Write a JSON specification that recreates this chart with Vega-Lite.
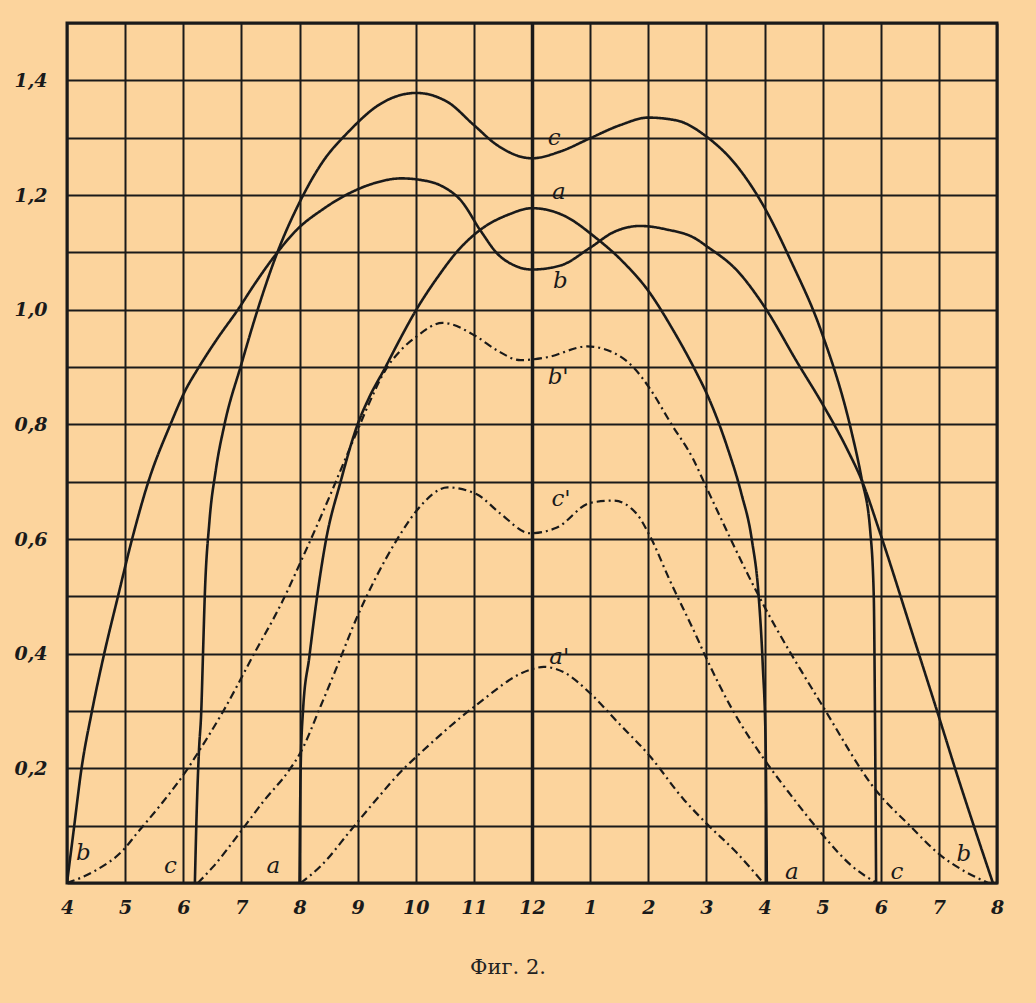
{
  "$schema": "https://vega.github.io/schema/vega-lite/v6.json",
  "width": 930,
  "height": 860,
  "autosize": {"type": "none"},
  "padding": {"left": 67, "top": 23, "right": 39, "bottom": 120},
  "background": "#FCD49D",
  "title": {"text": "Фиг. 2.", "orient": "bottom", "anchor": "middle", "offset": 40, "dx": -24, "font": "DejaVu Serif", "fontSize": 21, "fontWeight": "normal", "color": "#222222"},
  "config": {
    "view": {"stroke": "#1a1a1a", "strokeWidth": 3},
    "axis": {"domain": false, "ticks": false, "gridColor": "#1a1a1a", "gridOpacity": 1, "labelColor": "#1a1a1a", "labelFont": "DejaVu Serif", "labelFontStyle": "italic", "labelFontWeight": "bold", "labelFontSize": 18, "labelFlush": false, "labelOverlap": false, "title": null}
  },
  "datasets": {
    "curves": [
      {"s": "b", "k": "solid", "h": 4.0, "v": 0},
      {"s": "b", "k": "solid", "h": 4.11, "v": 0.088},
      {"s": "b", "k": "solid", "h": 4.25, "v": 0.2},
      {"s": "b", "k": "solid", "h": 4.43, "v": 0.3},
      {"s": "b", "k": "solid", "h": 4.64, "v": 0.4},
      {"s": "b", "k": "solid", "h": 4.87, "v": 0.497},
      {"s": "b", "k": "solid", "h": 5.12, "v": 0.6},
      {"s": "b", "k": "solid", "h": 5.4, "v": 0.7},
      {"s": "b", "k": "solid", "h": 5.78, "v": 0.8},
      {"s": "b", "k": "solid", "h": 6.04, "v": 0.86},
      {"s": "b", "k": "solid", "h": 6.24, "v": 0.895},
      {"s": "b", "k": "solid", "h": 6.59, "v": 0.95},
      {"s": "b", "k": "solid", "h": 6.94, "v": 1.0},
      {"s": "b", "k": "solid", "h": 7.23, "v": 1.045},
      {"s": "b", "k": "solid", "h": 7.62, "v": 1.1},
      {"s": "b", "k": "solid", "h": 7.96, "v": 1.14},
      {"s": "b", "k": "solid", "h": 8.4, "v": 1.175},
      {"s": "b", "k": "solid", "h": 8.8, "v": 1.2},
      {"s": "b", "k": "solid", "h": 9.3, "v": 1.221},
      {"s": "b", "k": "solid", "h": 9.75, "v": 1.229},
      {"s": "b", "k": "solid", "h": 10.1, "v": 1.226},
      {"s": "b", "k": "solid", "h": 10.44, "v": 1.216},
      {"s": "b", "k": "solid", "h": 10.78, "v": 1.19},
      {"s": "b", "k": "solid", "h": 11.12, "v": 1.137},
      {"s": "b", "k": "solid", "h": 11.41, "v": 1.097},
      {"s": "b", "k": "solid", "h": 11.7, "v": 1.077},
      {"s": "b", "k": "solid", "h": 12.0, "v": 1.07},
      {"s": "b", "k": "solid", "h": 12.49, "v": 1.077},
      {"s": "b", "k": "solid", "h": 13.0, "v": 1.108},
      {"s": "b", "k": "solid", "h": 13.4, "v": 1.135},
      {"s": "b", "k": "solid", "h": 13.86, "v": 1.146},
      {"s": "b", "k": "solid", "h": 14.31, "v": 1.14},
      {"s": "b", "k": "solid", "h": 14.83, "v": 1.123},
      {"s": "b", "k": "solid", "h": 15.0, "v": 1.111},
      {"s": "b", "k": "solid", "h": 15.53, "v": 1.068},
      {"s": "b", "k": "solid", "h": 16.0, "v": 1.005},
      {"s": "b", "k": "solid", "h": 16.57, "v": 0.907},
      {"s": "b", "k": "solid", "h": 17.0, "v": 0.835},
      {"s": "b", "k": "solid", "h": 17.43, "v": 0.755},
      {"s": "b", "k": "solid", "h": 17.67, "v": 0.703},
      {"s": "b", "k": "solid", "h": 17.99, "v": 0.61},
      {"s": "b", "k": "solid", "h": 18.56, "v": 0.43},
      {"s": "b", "k": "solid", "h": 19.0, "v": 0.29},
      {"s": "b", "k": "solid", "h": 19.31, "v": 0.19},
      {"s": "b", "k": "solid", "h": 19.6, "v": 0.1},
      {"s": "b", "k": "solid", "h": 19.93, "v": 0},

      {"s": "c", "k": "solid", "h": 6.2, "v": 0},
      {"s": "c", "k": "solid", "h": 6.23, "v": 0.12},
      {"s": "c", "k": "solid", "h": 6.27, "v": 0.23},
      {"s": "c", "k": "solid", "h": 6.31, "v": 0.3},
      {"s": "c", "k": "solid", "h": 6.34, "v": 0.4},
      {"s": "c", "k": "solid", "h": 6.37, "v": 0.5},
      {"s": "c", "k": "solid", "h": 6.45, "v": 0.63},
      {"s": "c", "k": "solid", "h": 6.56, "v": 0.72},
      {"s": "c", "k": "solid", "h": 6.71, "v": 0.8},
      {"s": "c", "k": "solid", "h": 7.0, "v": 0.905},
      {"s": "c", "k": "solid", "h": 7.28, "v": 1.0},
      {"s": "c", "k": "solid", "h": 7.62, "v": 1.1},
      {"s": "c", "k": "solid", "h": 8.02, "v": 1.191},
      {"s": "c", "k": "solid", "h": 8.4, "v": 1.258},
      {"s": "c", "k": "solid", "h": 8.84, "v": 1.31},
      {"s": "c", "k": "solid", "h": 9.41, "v": 1.36},
      {"s": "c", "k": "solid", "h": 10.01, "v": 1.378},
      {"s": "c", "k": "solid", "h": 10.55, "v": 1.362},
      {"s": "c", "k": "solid", "h": 11.0, "v": 1.322},
      {"s": "c", "k": "solid", "h": 11.4, "v": 1.287},
      {"s": "c", "k": "solid", "h": 12.0, "v": 1.264},
      {"s": "c", "k": "solid", "h": 12.49, "v": 1.276},
      {"s": "c", "k": "solid", "h": 13.0, "v": 1.299},
      {"s": "c", "k": "solid", "h": 13.52, "v": 1.322},
      {"s": "c", "k": "solid", "h": 14.0, "v": 1.335},
      {"s": "c", "k": "solid", "h": 14.49, "v": 1.33},
      {"s": "c", "k": "solid", "h": 15.0, "v": 1.302},
      {"s": "c", "k": "solid", "h": 15.53, "v": 1.25},
      {"s": "c", "k": "solid", "h": 16.0, "v": 1.178},
      {"s": "c", "k": "solid", "h": 16.45, "v": 1.086},
      {"s": "c", "k": "solid", "h": 16.97, "v": 0.964},
      {"s": "c", "k": "solid", "h": 17.49, "v": 0.79},
      {"s": "c", "k": "solid", "h": 17.67, "v": 0.706},
      {"s": "c", "k": "solid", "h": 17.82, "v": 0.613},
      {"s": "c", "k": "solid", "h": 17.88, "v": 0.5},
      {"s": "c", "k": "solid", "h": 17.9, "v": 0.3},
      {"s": "c", "k": "solid", "h": 17.92, "v": 0},

      {"s": "a", "k": "solid", "h": 8.0, "v": 0},
      {"s": "a", "k": "solid", "h": 8.02, "v": 0.2},
      {"s": "a", "k": "solid", "h": 8.06, "v": 0.3},
      {"s": "a", "k": "solid", "h": 8.17, "v": 0.395},
      {"s": "a", "k": "solid", "h": 8.28, "v": 0.483},
      {"s": "a", "k": "solid", "h": 8.45, "v": 0.595},
      {"s": "a", "k": "solid", "h": 8.71, "v": 0.701},
      {"s": "a", "k": "solid", "h": 9.0, "v": 0.8},
      {"s": "a", "k": "solid", "h": 9.19, "v": 0.845},
      {"s": "a", "k": "solid", "h": 9.48, "v": 0.9},
      {"s": "a", "k": "solid", "h": 9.71, "v": 0.945},
      {"s": "a", "k": "solid", "h": 10.01, "v": 1.0},
      {"s": "a", "k": "solid", "h": 10.4, "v": 1.06},
      {"s": "a", "k": "solid", "h": 10.7, "v": 1.1},
      {"s": "a", "k": "solid", "h": 11.12, "v": 1.14},
      {"s": "a", "k": "solid", "h": 11.6, "v": 1.166},
      {"s": "a", "k": "solid", "h": 12.0, "v": 1.177},
      {"s": "a", "k": "solid", "h": 12.55, "v": 1.164},
      {"s": "a", "k": "solid", "h": 13.09, "v": 1.126},
      {"s": "a", "k": "solid", "h": 13.57, "v": 1.083},
      {"s": "a", "k": "solid", "h": 14.0, "v": 1.033},
      {"s": "a", "k": "solid", "h": 14.43, "v": 0.964},
      {"s": "a", "k": "solid", "h": 14.83, "v": 0.89},
      {"s": "a", "k": "solid", "h": 15.0, "v": 0.855},
      {"s": "a", "k": "solid", "h": 15.36, "v": 0.76},
      {"s": "a", "k": "solid", "h": 15.6, "v": 0.68},
      {"s": "a", "k": "solid", "h": 15.78, "v": 0.6},
      {"s": "a", "k": "solid", "h": 15.9, "v": 0.5},
      {"s": "a", "k": "solid", "h": 15.97, "v": 0.38},
      {"s": "a", "k": "solid", "h": 16.02, "v": 0.24},
      {"s": "a", "k": "solid", "h": 16.04, "v": 0},

      {"s": "b1", "k": "dash", "h": 4.0, "v": 0},
      {"s": "b1", "k": "dash", "h": 4.46, "v": 0.02},
      {"s": "b1", "k": "dash", "h": 4.99, "v": 0.06},
      {"s": "b1", "k": "dash", "h": 5.19, "v": 0.085},
      {"s": "b1", "k": "dash", "h": 5.6, "v": 0.135},
      {"s": "b1", "k": "dash", "h": 6.08, "v": 0.2},
      {"s": "b1", "k": "dash", "h": 6.22, "v": 0.222},
      {"s": "b1", "k": "dash", "h": 6.69, "v": 0.3},
      {"s": "b1", "k": "dash", "h": 7.22, "v": 0.4},
      {"s": "b1", "k": "dash", "h": 7.7, "v": 0.49},
      {"s": "b1", "k": "dash", "h": 8.02, "v": 0.56},
      {"s": "b1", "k": "dash", "h": 8.5, "v": 0.67},
      {"s": "b1", "k": "dash", "h": 8.79, "v": 0.74},
      {"s": "b1", "k": "dash", "h": 9.0, "v": 0.79},
      {"s": "b1", "k": "dash", "h": 9.19, "v": 0.835},
      {"s": "b1", "k": "dash", "h": 9.48, "v": 0.895},
      {"s": "b1", "k": "dash", "h": 9.75, "v": 0.93},
      {"s": "b1", "k": "dash", "h": 10.0, "v": 0.952},
      {"s": "b1", "k": "dash", "h": 10.46, "v": 0.977},
      {"s": "b1", "k": "dash", "h": 11.03, "v": 0.954},
      {"s": "b1", "k": "dash", "h": 11.4, "v": 0.929},
      {"s": "b1", "k": "dash", "h": 11.8, "v": 0.912},
      {"s": "b1", "k": "dash", "h": 12.26, "v": 0.917},
      {"s": "b1", "k": "dash", "h": 12.95, "v": 0.936},
      {"s": "b1", "k": "dash", "h": 13.4, "v": 0.925},
      {"s": "b1", "k": "dash", "h": 13.74, "v": 0.9},
      {"s": "b1", "k": "dash", "h": 14.03, "v": 0.862},
      {"s": "b1", "k": "dash", "h": 14.4, "v": 0.8},
      {"s": "b1", "k": "dash", "h": 14.77, "v": 0.74},
      {"s": "b1", "k": "dash", "h": 15.0, "v": 0.69},
      {"s": "b1", "k": "dash", "h": 15.92, "v": 0.497},
      {"s": "b1", "k": "dash", "h": 17.01, "v": 0.307},
      {"s": "b1", "k": "dash", "h": 17.93, "v": 0.16},
      {"s": "b1", "k": "dash", "h": 18.5, "v": 0.1},
      {"s": "b1", "k": "dash", "h": 19.02, "v": 0.049},
      {"s": "b1", "k": "dash", "h": 19.45, "v": 0.02},
      {"s": "b1", "k": "dash", "h": 19.85, "v": 0},

      {"s": "c1", "k": "dash", "h": 6.25, "v": 0},
      {"s": "c1", "k": "dash", "h": 6.52, "v": 0.029},
      {"s": "c1", "k": "dash", "h": 6.99, "v": 0.09},
      {"s": "c1", "k": "dash", "h": 7.4, "v": 0.145},
      {"s": "c1", "k": "dash", "h": 7.81, "v": 0.195},
      {"s": "c1", "k": "dash", "h": 8.02, "v": 0.228},
      {"s": "c1", "k": "dash", "h": 8.37, "v": 0.31},
      {"s": "c1", "k": "dash", "h": 8.6, "v": 0.366},
      {"s": "c1", "k": "dash", "h": 9.0, "v": 0.466},
      {"s": "c1", "k": "dash", "h": 9.29, "v": 0.528},
      {"s": "c1", "k": "dash", "h": 9.69, "v": 0.601},
      {"s": "c1", "k": "dash", "h": 10.02, "v": 0.65},
      {"s": "c1", "k": "dash", "h": 10.55, "v": 0.69},
      {"s": "c1", "k": "dash", "h": 11.05, "v": 0.678},
      {"s": "c1", "k": "dash", "h": 11.46, "v": 0.644},
      {"s": "c1", "k": "dash", "h": 11.97, "v": 0.61},
      {"s": "c1", "k": "dash", "h": 12.43, "v": 0.62},
      {"s": "c1", "k": "dash", "h": 13.0, "v": 0.663},
      {"s": "c1", "k": "dash", "h": 13.4, "v": 0.667},
      {"s": "c1", "k": "dash", "h": 13.8, "v": 0.644},
      {"s": "c1", "k": "dash", "h": 14.03, "v": 0.605},
      {"s": "c1", "k": "dash", "h": 14.37, "v": 0.528},
      {"s": "c1", "k": "dash", "h": 14.83, "v": 0.43},
      {"s": "c1", "k": "dash", "h": 15.0, "v": 0.392},
      {"s": "c1", "k": "dash", "h": 15.46, "v": 0.3},
      {"s": "c1", "k": "dash", "h": 16.0, "v": 0.215},
      {"s": "c1", "k": "dash", "h": 16.44, "v": 0.155},
      {"s": "c1", "k": "dash", "h": 17.0, "v": 0.084},
      {"s": "c1", "k": "dash", "h": 17.5, "v": 0.03},
      {"s": "c1", "k": "dash", "h": 17.93, "v": 0},

      {"s": "a1", "k": "dash", "h": 8.02, "v": 0},
      {"s": "a1", "k": "dash", "h": 8.37, "v": 0.03},
      {"s": "a1", "k": "dash", "h": 8.89, "v": 0.093},
      {"s": "a1", "k": "dash", "h": 9.3, "v": 0.143},
      {"s": "a1", "k": "dash", "h": 9.8, "v": 0.2},
      {"s": "a1", "k": "dash", "h": 10.03, "v": 0.222},
      {"s": "a1", "k": "dash", "h": 11.0, "v": 0.307},
      {"s": "a1", "k": "dash", "h": 11.97, "v": 0.372},
      {"s": "a1", "k": "dash", "h": 12.2, "v": 0.377},
      {"s": "a1", "k": "dash", "h": 12.54, "v": 0.368},
      {"s": "a1", "k": "dash", "h": 13.0, "v": 0.331},
      {"s": "a1", "k": "dash", "h": 13.46, "v": 0.282},
      {"s": "a1", "k": "dash", "h": 14.03, "v": 0.221},
      {"s": "a1", "k": "dash", "h": 14.6, "v": 0.147},
      {"s": "a1", "k": "dash", "h": 15.0, "v": 0.104},
      {"s": "a1", "k": "dash", "h": 15.52, "v": 0.053},
      {"s": "a1", "k": "dash", "h": 15.98, "v": 0}
    ],
    "labels": [
      {"t": "c", "h": 12.38, "v": 1.3},
      {"t": "a", "h": 12.46, "v": 1.206},
      {"t": "b", "h": 12.49, "v": 1.05},
      {"t": "b'", "h": 12.45, "v": 0.883},
      {"t": "c'", "h": 12.5, "v": 0.669},
      {"t": "a'", "h": 12.47, "v": 0.395},
      {"t": "b", "h": 4.28, "v": 0.053},
      {"t": "c", "h": 5.78, "v": 0.03},
      {"t": "a", "h": 7.55, "v": 0.03},
      {"t": "a", "h": 16.47, "v": 0.02},
      {"t": "c", "h": 18.28, "v": 0.02},
      {"t": "b", "h": 19.43, "v": 0.05}
    ]
  },
  "encoding": {
    "x": {"field": "h", "type": "quantitative",
      "scale": {"domain": [4, 20], "nice": false, "zero": false},
      "axis": {"values": [4,5,6,7,8,9,10,11,12,13,14,15,16,17,18,19,20],
        "labelExpr": "'' + (datum.value > 12 ? datum.value - 12 : datum.value)",
        "labelPadding": 15, "labelFontSize": 19, "grid": true,
        "gridWidth": {"condition": {"test": "datum.value === 12", "value": 3.5}, "value": 2}}},
    "y": {"field": "v", "type": "quantitative",
      "scale": {"domain": [0, 1.5], "nice": false},
      "axis": {"values": [0,0.1,0.2,0.3,0.4,0.5,0.6,0.7,0.8,0.9,1.0,1.1,1.2,1.3,1.4,1.5],
        "labelExpr": "(datum.value > 0.05 && datum.value < 1.45 && round(datum.value*10) % 2 == 0) ? replace(format(datum.value, '.1f'), '.', ',') : ''",
        "labelPadding": 20, "grid": true, "gridWidth": 2, "labelFontSize": 19}}
  },
  "layer": [
    {
      "data": {"name": "curves"},
      "mark": {"type": "line", "interpolate": "monotone", "color": "#1a1a1a", "clip": true},
      "encoding": {
        "detail": {"field": "s", "type": "nominal"},
        "strokeDash": {"field": "k", "type": "nominal", "scale": {"domain": ["solid", "dash"], "range": [[1, 0], [8, 4, 2, 4]]}, "legend": null},
        "strokeWidth": {"field": "k", "type": "nominal", "scale": {"domain": ["solid", "dash"], "range": [2.6, 2.2]}, "legend": null}
      }
    },
    {
      "data": {"name": "labels"},
      "mark": {"type": "text", "font": "DejaVu Serif", "fontStyle": "italic", "fontSize": 23, "color": "#1a1a1a", "baseline": "middle", "align": "center"},
      "encoding": {"text": {"field": "t", "type": "nominal"}}
    }
  ]
}
